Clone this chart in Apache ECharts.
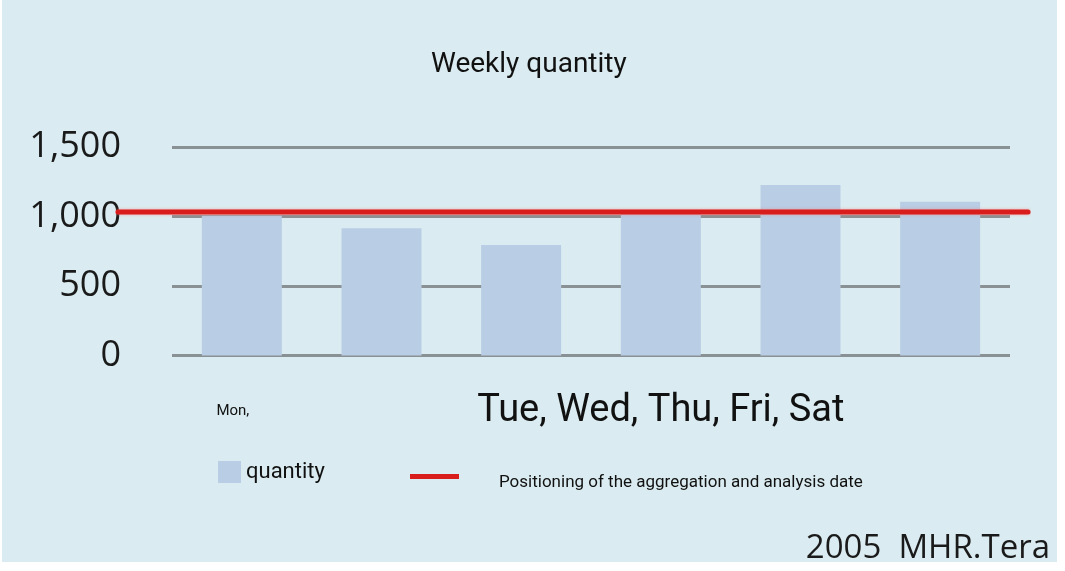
<!DOCTYPE html>
<html>
<head>
<meta charset="utf-8">
<script src="https://cdn.jsdelivr.net/npm/echarts@6/dist/echarts.min.js"></script>
<style>
html,body{margin:0;padding:0;background:#ffffff;}
#chart{width:1065px;height:571px;}
</style>
</head>
<body>
<div id="chart"></div>
<script>
const categories = ['Mon', 'Tue', 'Wed', 'Thu', 'Fri', 'Sat'];
const categoryLabels = ['Mon,', '', '', 'Tue, Wed, Thu, Fri, Sat', '', ''];
const quantity = [1005, 915, 795, 1020, 1227, 1106];
const referenceLevel = 1032;
const yTicks = [0, 500, 1000, 1500];
const titleText = 'Weekly quantity';
const seriesNames = ['quantity', 'Positioning of the aggregation and analysis date'];
const footerText = '2005  MHR.Tera';

const chart = echarts.init(document.getElementById('chart'), null, {renderer: 'canvas'});
const font = 'Roboto, "Noto Sans", sans-serif';

const option = {
  backgroundColor: '#ffffff',
  animation: false,
  graphic: [
    {type: 'rect', z: -10, shape: {x: 2, y: 0, width: 1055, height: 562}, style: {fill: '#daecf1'}},
    {type: 'text', right: 15, top: 532, style: {text: footerText, font: '33px "Open Sans", "Noto Sans", sans-serif', fill: '#1a1a1a'}},
    {type: 'text', left: 499, top: 474, style: {text: seriesNames[1], font: '17px Roboto, "Noto Sans", sans-serif', fill: '#111111'}}
  ],
  title: {
    text: titleText,
    left: 431, top: 51, padding: 0,
    textStyle: {fontFamily: font, fontSize: 28, fontWeight: 'normal', color: '#111111'}
  },
  legend: [
    {
      data: [{name: seriesNames[0], icon: 'rect'}],
      left: 218, top: 461, padding: 0, itemWidth: 23, itemHeight: 22, itemGap: 5,
      textStyle: {fontFamily: font, fontSize: 22, color: '#111111'}
    },
    {
      data: [{name: seriesNames[1], icon: 'rect'}],
      left: 410, top: 474, padding: 0, itemWidth: 49, itemHeight: 5,
      formatter: function () { return ''; },
      textStyle: {fontSize: 1}
    }
  ],
  grid: [
    {left: 172, right: 55, top: 147, bottom: 215.5},
    {left: 118, right: 37, top: 147, bottom: 215.5}
  ],
  xAxis: [
    {
      type: 'category', gridIndex: 0, data: categories,
      axisLine: {show: false}, axisTick: {show: false},
      axisLabel: {
        interval: 0, margin: 36,
        formatter: function (v, i) {
          const t = categoryLabels[i];
          if (!t) return '';
          return i === 0 ? '{s|' + t + '}' : '{b|' + t + '}';
        },
        rich: {
          s: {fontFamily: font, fontSize: 15, lineHeight: 40, color: '#111111', padding: [0, 18, 0, 0]},
          b: {fontFamily: font, fontSize: 38, lineHeight: 40, color: '#111111'}
        }
      }
    },
    {type: 'value', gridIndex: 1, min: 0, max: 1, show: false}
  ],
  yAxis: [
    {
      type: 'value', gridIndex: 0, min: yTicks[0], max: yTicks[yTicks.length - 1], interval: 500,
      axisLine: {show: false}, axisTick: {show: false},
      axisLabel: {
        margin: 51, fontFamily: '"Open Sans", "Noto Sans", sans-serif', fontSize: 36, color: '#1a1a1a',
        formatter: function (v) { return v.toLocaleString('en-US'); }
      },
      splitLine: {lineStyle: {color: '#8a9194', width: 3}}
    },
    {type: 'value', gridIndex: 1, min: yTicks[0], max: yTicks[yTicks.length - 1], show: false}
  ],
  series: [
    {
      name: seriesNames[0], type: 'bar', xAxisIndex: 0, yAxisIndex: 0,
      data: quantity, barWidth: 80,
      itemStyle: {color: '#b9cde4'}
    },
    {
      name: seriesNames[1], type: 'line', xAxisIndex: 1, yAxisIndex: 1,
      data: [[0, referenceLevel], [1, referenceLevel]],
      symbol: 'none', z: 5,
      lineStyle: {color: '#d91c1c', width: 5, cap: 'round', shadowColor: 'rgba(255,120,120,0.7)', shadowBlur: 3},
      itemStyle: {color: '#d91c1c'}
    }
  ]
};
chart.setOption(option);
</script>
</body>
</html>
